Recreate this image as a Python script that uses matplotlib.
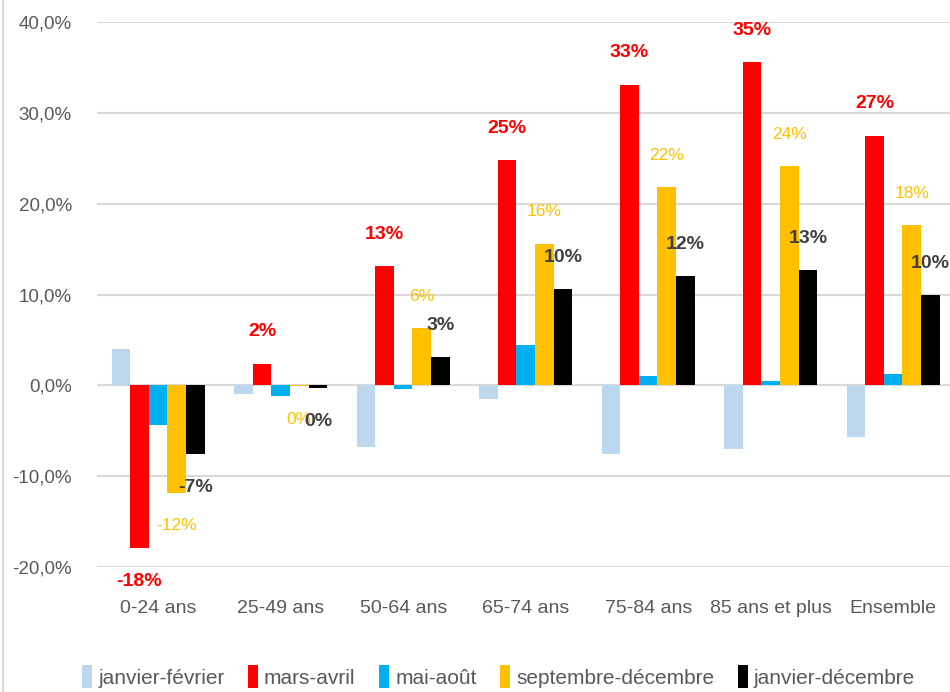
import numpy as np
import matplotlib
matplotlib.use("Agg")
from matplotlib import pyplot as plt
from matplotlib.lines import Line2D

plt.rcParams['font.family'] = ['Liberation Sans', 'DejaVu Sans']

categories = ["0-24 ans", "25-49 ans", "50-64 ans", "65-74 ans", "75-84 ans", "85 ans et plus", "Ensemble"]
series_names = ["janvier-février", "mars-avril", "mai-août", "septembre-décembre", "janvier-décembre"]

janv_fev = [4.0, -0.9, -6.8, -1.5, -7.6, -7.0, -5.7]
mars_avril = [-17.9, 2.4, 13.1, 24.8, 33.1, 35.6, 27.5]
mai_aout = [-4.4, -1.2, -0.4, 4.4, 1.0, 0.5, 1.2]
sept_dec = [-11.8, -0.1, 6.3, 15.6, 21.8, 24.1, 17.6]
janv_dec = [-7.6, -0.3, 3.1, 10.6, 12.0, 12.7, 9.9]

mars_labels = ["-18%", "2%", "13%", "25%", "33%", "35%", "27%"]
sept_labels = ["-12%", "0%", "6%", "16%", "22%", "24%", "18%"]
dec_labels = ["-7%", "0%", "3%", "10%", "12%", "13%", "10%"]

yticks = [-20, -10, 0, 10, 20, 30, 40]

colors = ["#BDD7EE", "#FF0000", "#00B0F0", "#FFC000", "#000000"]

fig = plt.figure(figsize=(9.5, 6.92), dpi=100)
ax = fig.add_axes([0.102, 0.1806, 0.9026, 0.7876])

x = np.arange(len(categories))
w = 0.152
all_series = [janv_fev, mars_avril, mai_aout, sept_dec, janv_dec]
bars = []
for i, vals in enumerate(all_series):
    b = ax.bar(x + (i - 2) * w, vals, w, color=colors[i], label=series_names[i], zorder=3)
    bars.append(b)

def add_labels(idx, labels, color, weight, size):
    vals = all_series[idx]
    for j, v in enumerate(vals):
        off = 23 if v >= 0 else -24
        ax.annotate(labels[j], (x[j] + (idx - 2) * w, v), xytext=(0, off),
                    textcoords="offset points", ha="center", va="center",
                    color=color, fontweight=weight, fontsize=size, zorder=5)

add_labels(1, mars_labels, "#FF0000", "bold", 14)
add_labels(3, sept_labels, "#FFC000", "normal", 12.5)
add_labels(4, dec_labels, "#404040", "bold", 14)

ax.set_xlim(-0.5, len(categories) - 0.5)
ax.set_ylim(-20, 40)
ax.set_yticks(yticks)
ax.set_yticklabels([("%.1f%%" % t).replace(".", ",") for t in yticks])
ax.set_xticks(x)
ax.set_xticklabels(categories)
ax.tick_params(axis="y", length=0, labelsize=13.5, labelcolor="#595959", pad=18)
ax.tick_params(axis="x", length=0, labelsize=14, labelcolor="#595959", pad=24)
ax.grid(axis="y", color="#D9D9D9", linewidth=1.5, zorder=0)
for s in ax.spines.values():
    s.set_visible(False)
ax.axhline(0, color="#D9D9D9", linewidth=1.5, zorder=2)

fig.legend(handles=bars, labels=series_names, loc="center", bbox_to_anchor=(0.525, 0.022),
           ncol=5, frameon=False, fontsize=15, handlelength=0.45, handleheight=1.3,
           handletextpad=0.3, columnspacing=1.15, labelcolor="#595959")

fig.add_artist(Line2D([0.003, 0.003], [0.0, 1.0], color="#D9D9D9", linewidth=1.5))

fig.savefig("out.png", dpi=100)
